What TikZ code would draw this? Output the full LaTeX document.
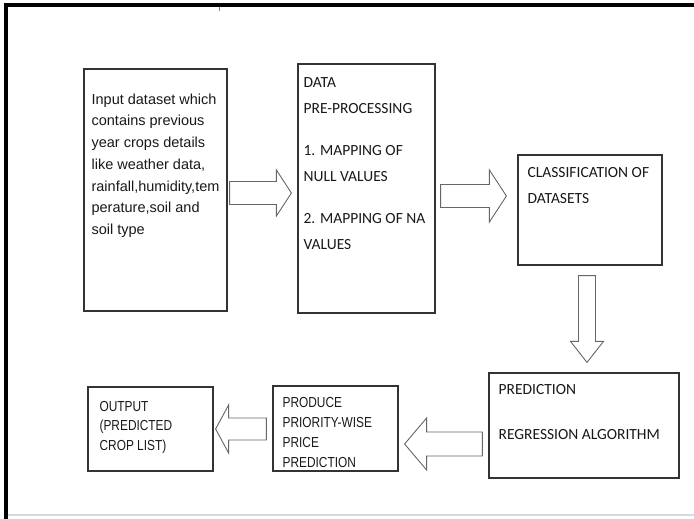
\documentclass[tikz,border=0pt]{standalone}
\usepackage{fontspec}
\setmainfont{Liberation Sans}
\newfontfamily\calfont{Carlito}
\newfontfamily\narrowfont[FakeStretch=0.82]{Liberation Sans}
\usetikzlibrary{calc}

\newcommand{\blockarrow}[5]{%
	\draw[fatarrow] let \p1=(#1), \p2=(#2), \n1={atan2(\y2-\y1,\x2-\x1)}, \n2={veclen(\x2-\x1,\y2-\y1)-#5pt} in
		($(\p1)+({\n1+90}:#3pt)$) -- ($(\p1)+({\n1}:\n2)+({\n1+90}:#3pt)$) -- ($(\p1)+({\n1}:\n2)+({\n1+90}:#4pt)$) -- (\p2)
		-- ($(\p1)+({\n1}:\n2)+({\n1-90}:#4pt)$) -- ($(\p1)+({\n1}:\n2)+({\n1-90}:#3pt)$) -- ($(\p1)+({\n1-90}:#3pt)$) -- cycle;}

\begin{document}
\begin{tikzpicture}[x=1pt, y=-1pt,
	box/.style={draw=black!80, line width=1.2pt, inner sep=0pt},
	boxtext/.style={anchor=base west, inner sep=0pt, align=left, text=black!90},
	fatarrow/.style={draw=black!60, line width=0.9pt, fill=white, line join=miter}]
	\useasboundingbox (0,0) rectangle (694,519);
	\fill[white] (0,0) rectangle (694,519);

	\draw[line width=4pt]			(694,5.5) -- (5.5,5.5) -- (5.5,519);
	\draw[black!15, line width=1.5pt]	(7.5,515) -- (694,515);
	\draw[black!50, line width=0.8pt]	(219,7) -- (219,11);

	\node[box, minimum width=143pt, minimum height=242pt] (input) at (155.5,190) {};
	\node[box, minimum width=137pt, minimum height=249pt] (prep) at (366.5,188.5) {};
	\node[box, minimum width=144pt, minimum height=110pt] (classify) at (590,210) {};
	\node[box, minimum width=190pt, minimum height=105pt] (predict) at (584,425.5) {};
	\node[box, minimum width=125pt, minimum height=85pt] (produce) at (335.5,428.5) {};
	\node[box, minimum width=125pt, minimum height=84pt] (output) at (150.5,429) {};

	\node[boxtext, font=\fontsize{14.5}{21.7}\selectfont] (inputtxt) at ([xshift=8pt,yshift=-166pt]input.north west)
		{Input dataset which\\contains previous\\year crops details\\like weather data,\\rainfall,humidity,tem\\perature,soil and\\soil type};
	\node[boxtext, font=\calfont\fontsize{15.5}{26.5}\selectfont] (preptxt) at ([xshift=6pt,yshift=-186.5pt]prep.north west)
		{DATA\\PRE-PROCESSING\\[15pt]1. MAPPING OF\\NULL VALUES\\[15pt]2. MAPPING OF NA\\VALUES};
	\node[boxtext, font=\calfont\fontsize{15.5}{26}\selectfont] (classifytxt) at ([xshift=10pt,yshift=-49pt]classify.north west)
		{CLASSIFICATION OF\\DATASETS};
	\node[boxtext, font=\calfont\fontsize{15.5}{26.5}\selectfont] (predicttxt) at ([xshift=10pt,yshift=-67pt]predict.north west)
		{PREDICTION\\[18.5pt]REGRESSION ALGORITHM};
	\node[boxtext, font=\narrowfont\fontsize{14.5}{20}\selectfont] (producetxt) at ([xshift=10pt,yshift=-82pt]produce.north west)
		{PRODUCE\\PRIORITY-WISE\\PRICE\\PREDICTION};
	\node[boxtext, font=\narrowfont\fontsize{14.5}{19.5}\selectfont] (outputtxt) at ([xshift=12pt,yshift=-64pt]output.north west)
		{OUTPUT\\(PREDICTED\\CROP LIST)};

	\coordinate (a1t) at ([xshift=2pt,yshift=-3pt]input.east);
	\coordinate (a1h) at ([xshift=-6pt,yshift=-4.5pt]prep.west);
	\coordinate (a2t) at ([xshift=5pt,yshift=-7.5pt]prep.east);
	\coordinate (a2h) at ([xshift=-11pt,yshift=14pt]classify.west);
	\coordinate (a3t) at ([xshift=-3pt,yshift=-10pt]classify.south);
	\coordinate (a3h) at ([xshift=3pt,yshift=10pt]predict.north);
	\coordinate (a4t) at ([xshift=-6pt,yshift=-18.5pt]predict.west);
	\coordinate (a4h) at ([xshift=6pt,yshift=-15.5pt]produce.east);
	\coordinate (a5t) at ([xshift=-6pt,yshift=-0.5pt]produce.west);
	\coordinate (a5h) at ([xshift=2pt]output.east);

	\blockarrow{a1t}{a1h}{11.5}{23}{15}
	\blockarrow{a2t}{a2h}{11.5}{26}{17}
	\blockarrow{a3t}{a3h}{8.5}{16.5}{21}
	\blockarrow{a4t}{a4h}{12}{26}{22}
	\blockarrow{a5t}{a5h}{11}{24}{13}
\end{tikzpicture}
\end{document}
